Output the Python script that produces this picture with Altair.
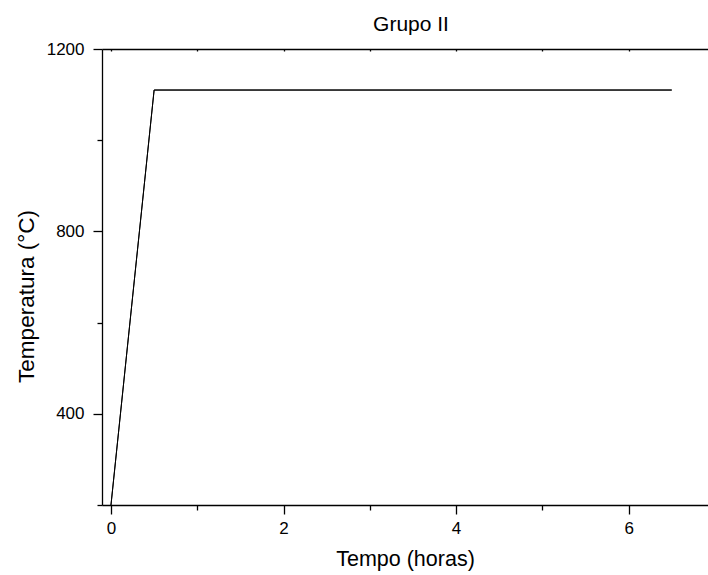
import altair as alt
import pandas as pd

tempo = [0, 0.5, 6.5]
temperatura = [200, 1110, 1110]
x_ticks = [0, 1, 2, 3, 4, 5, 6]
y_ticks = [200, 400, 600, 800, 1000, 1200]

df = pd.DataFrame({"Tempo": tempo, "Temperatura": temperatura})
FONT = "Liberation Sans"

xscale = alt.Scale(domain=[-0.104, 6.92], nice=False, zero=False)
yscale = alt.Scale(domain=[200, 1200], nice=False, zero=False)

main = alt.Chart(df).mark_line(color="black", strokeWidth=1).encode(
    x=alt.X("Tempo:Q", scale=xscale, title="Tempo (horas)",
            axis=alt.Axis(values=x_ticks, grid=False, domainColor="black", domainWidth=1.3,
                          tickColor="black", tickWidth=1.3,
                          tickSize={"condition": {"test": "datum.value % 2 == 0", "value": 9}, "value": 5},
                          labelExpr="datum.value % 2 == 0 ? datum.label : ''",
                          labelFont=FONT, labelFontSize=17, labelColor="black", labelPadding=6,
                          titleFont=FONT, titleFontSize=21.5, titleFontWeight="normal", titleColor="black",
                          titlePadding=12)),
    y=alt.Y("Temperatura:Q", scale=yscale, title="Temperatura (°C)",
            axis=alt.Axis(values=y_ticks, grid=False, domainColor="black", domainWidth=1.3,
                          tickColor="black", tickWidth=1.3, format="d",
                          tickSize={"condition": {"test": "datum.value % 400 == 0", "value": 9}, "value": 5},
                          labelExpr="datum.value % 400 == 0 ? datum.label : ''",
                          labelFont=FONT, labelFontSize=17, labelColor="black", labelPadding=9,
                          titleFont=FONT, titleFontSize=22.5, titleFontWeight="normal", titleColor="black",
                          titleAngle=270, titleAlign="center", titleBaseline="alphabetic",
                          titleX=-69, titleY=247)),
)

top = alt.Chart(df).mark_line(color="black", strokeWidth=1).encode(
    x=alt.X("Tempo:Q", scale=xscale, title=None,
            axis=alt.Axis(orient="bottom", offset=-456, values=x_ticks, grid=False, labels=False,
                          domainColor="black", domainWidth=1.3, tickColor="black", tickWidth=1.3,
                          tickSize=2)),
    y=alt.Y("Temperatura:Q", scale=yscale, axis=None),
)

chart = alt.layer(main, top).resolve_axis(x="independent", y="independent").properties(
    width=606, height=456,
    title=alt.TitleParams("Grupo II", font=FONT, fontSize=21, fontWeight="normal", color="black",
                          anchor="middle", offset=5, dx=6),
    autosize=alt.AutoSizeParams(type="none"),
    padding={"left": 102, "top": 49, "right": 0, "bottom": 70},
).configure_view(stroke=None)

chart.save("out.html", embed_options={"renderer": "svg", "actions": False})
